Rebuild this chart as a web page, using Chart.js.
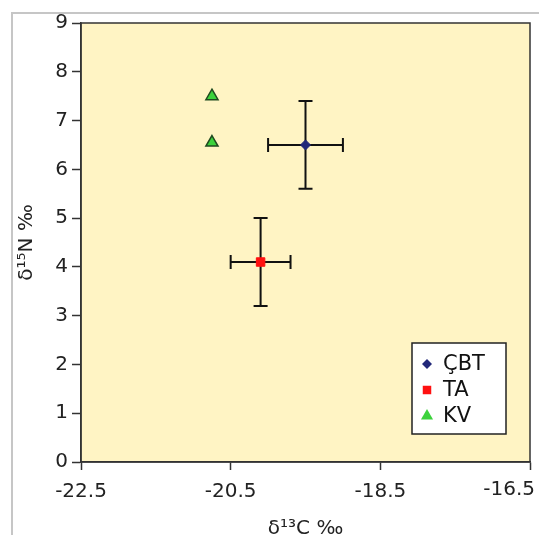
<!DOCTYPE html>
<html>
<head>
<meta charset="utf-8">
<script src="https://cdn.jsdelivr.net/npm/chart.js@4.4.1/dist/chart.umd.min.js"></script>
<style>
  body { margin: 0; background: #fff; }
  #wrap { position: relative; width: 539px; height: 535px; }
  #frame { position: absolute; left: 11px; top: 12px; right: 0; bottom: 0; border-left: 2px solid #c6c6c6; border-top: 2px solid #c6c6c6; }
  canvas { position: absolute; left: 0; top: 0; }
</style>
</head>
<body>
<div id="wrap">
  <div id="frame"></div>
  <canvas id="chart" width="539" height="535"></canvas>
</div>
<script>
// Data
const categories = ['ÇBT', 'TA', 'KV'];
const cbtX = [-19.5];
const cbtY = [6.5];
const cbtXErr = [0.5];
const cbtYErr = [0.9];
const taX = [-20.1];
const taY = [4.1];
const taXErr = [0.4];
const taYErr = [0.9];
const kvX = [-20.75, -20.75];
const kvY = [7.5, 6.55];
const xTicks = [-22.5, -20.5, -18.5, -16.5];
const yTicks = [0, 1, 2, 3, 4, 5, 6, 7, 8, 9];

const FONT = '"DejaVu Sans", sans-serif';
const TICK_SIZE = 20;

const toPoints = (xs, ys, xe, ye) => xs.map((x, i) => ({
  x, y: ys[i], xErr: xe ? xe[i] : 0, yErr: ye ? ye[i] : 0
}));

// Plot background and border
const plotFrame = {
  id: 'plotFrame',
  beforeDraw(chart) {
    const { ctx, chartArea: a } = chart;
    ctx.save();
    ctx.fillStyle = '#FFF4C4';
    ctx.fillRect(a.left, a.top, a.right - a.left, a.bottom - a.top);
    ctx.restore();
  },
  afterDraw(chart) {
    const { ctx, chartArea: a, scales: { x } } = chart;
    ctx.save();
    ctx.strokeStyle = '#333';
    ctx.lineWidth = 1.5;
    ctx.strokeRect(a.left, a.top, a.right - a.left, a.bottom - a.top);
    // last x label sits flush with the right edge, a little higher
    const last = xTicks[xTicks.length - 1];
    ctx.font = TICK_SIZE + 'px ' + FONT;
    ctx.fillStyle = '#222';
    ctx.textAlign = 'right';
    ctx.textBaseline = 'alphabetic';
    ctx.fillText(String(last), x.getPixelForValue(last) + 5, a.bottom + 33);
    ctx.restore();
  }
};

// Error bars from the data
const errorBars = {
  id: 'errorBars',
  beforeDatasetsDraw(chart) {
    const { ctx, scales: { x, y } } = chart;
    const cap = 7;
    ctx.save();
    ctx.strokeStyle = '#111';
    ctx.lineWidth = 2;
    chart.data.datasets.forEach(ds => {
      ds.data.forEach(p => {
        const px = x.getPixelForValue(p.x);
        const py = y.getPixelForValue(p.y);
        ctx.beginPath();
        if (p.xErr) {
          const l = x.getPixelForValue(p.x - p.xErr);
          const r = x.getPixelForValue(p.x + p.xErr);
          ctx.moveTo(l, py); ctx.lineTo(r, py);
          ctx.moveTo(l, py - cap); ctx.lineTo(l, py + cap);
          ctx.moveTo(r, py - cap); ctx.lineTo(r, py + cap);
        }
        if (p.yErr) {
          const t = y.getPixelForValue(p.y + p.yErr);
          const b = y.getPixelForValue(p.y - p.yErr);
          ctx.moveTo(px, t); ctx.lineTo(px, b);
          ctx.moveTo(px - cap, t); ctx.lineTo(px + cap, t);
          ctx.moveTo(px - cap, b); ctx.lineTo(px + cap, b);
        }
        ctx.stroke();
      });
    });
    ctx.restore();
  }
};

// Boxed legend inside the plot, lower right
const boxLegend = {
  id: 'boxLegend',
  afterDraw(chart) {
    const { ctx, chartArea: a } = chart;
    const left = a.right - 118, top = a.bottom - 119, w = 94, h = 91;
    ctx.save();
    ctx.fillStyle = '#fff';
    ctx.fillRect(left, top, w, h);
    ctx.strokeStyle = '#222';
    ctx.lineWidth = 1.5;
    ctx.strokeRect(left, top, w, h);
    ctx.font = '21px ' + FONT;
    ctx.textBaseline = 'middle';
    chart.data.datasets.forEach((ds, i) => {
      const cy = top + 21 + i * 26;
      ctx.fillStyle = ds.backgroundColor;
      ctx.strokeStyle = ds.borderColor;
      ctx.lineWidth = ds.borderWidth;
      Chart.helpers.drawPoint(ctx, { pointStyle: ds.pointStyle, radius: ds.legendRadius, rotation: 0 }, left + 15, cy);
      ctx.fillStyle = '#111';
      ctx.fillText(ds.label, left + 31, cy + 1);
    });
    ctx.restore();
  }
};

new Chart(document.getElementById('chart'), {
  type: 'scatter',
  data: {
    datasets: [
      {
        label: categories[0],
        data: toPoints(cbtX, cbtY, cbtXErr, cbtYErr),
        pointStyle: 'rectRot',
        radius: 5,
        legendRadius: 5,
        backgroundColor: '#22287A',
        borderColor: '#22287A',
        borderWidth: 1
      },
      {
        label: categories[1],
        data: toPoints(taX, taY, taXErr, taYErr),
        pointStyle: 'rect',
        radius: 6,
        legendRadius: 6,
        backgroundColor: '#FF1010',
        borderColor: '#FF1010',
        borderWidth: 1
      },
      {
        label: categories[2],
        data: toPoints(kvX, kvY),
        pointStyle: 'triangle',
        radius: 7,
        legendRadius: 7,
        backgroundColor: '#3CD23C',
        borderColor: '#1F4A1F',
        borderWidth: 1.5
      }
    ]
  },
  options: {
    responsive: false,
    animation: false,
    layout: { padding: { left: 0, right: 9, top: 23, bottom: 0 } },
    plugins: {
      legend: { display: false },
      tooltip: { enabled: false }
    },
    scales: {
      x: {
        type: 'linear',
        min: -22.5,
        max: -16.5,
        afterBuildTicks: s => { s.ticks = xTicks.map(v => ({ value: v })); },
        afterFit: s => { s.height = 73; s.paddingLeft = 0; s.paddingRight = 0; },
        border: { display: true, color: '#333', width: 1.5 },
        grid: { drawOnChartArea: false, drawTicks: true, tickLength: 8, tickColor: '#333', tickWidth: 1.5 },
        ticks: {
          color: '#222', font: { family: FONT, size: TICK_SIZE }, padding: 10, maxRotation: 0,
          callback: v => (v === xTicks[xTicks.length - 1] ? '' : String(v))
        },
        title: { display: true, text: 'δ¹³C ‰', color: '#222', font: { family: FONT, size: 20 }, padding: { top: 0, bottom: -6 } }
      },
      y: {
        type: 'linear',
        min: 0,
        max: 9,
        afterBuildTicks: s => { s.ticks = yTicks.map(v => ({ value: v })); },
        afterFit: s => { s.width = 81; s.paddingTop = 0; s.paddingBottom = 0; },
        border: { display: true, color: '#333', width: 1.5 },
        grid: { drawOnChartArea: false, drawTicks: true, tickLength: 9, tickColor: '#333', tickWidth: 1.5 },
        ticks: { color: '#222', font: { family: FONT, size: TICK_SIZE }, padding: 4 },
        title: { display: true, text: 'δ¹⁵N ‰', color: '#222', font: { family: FONT, size: 20 }, padding: { top: 15, bottom: 0 } }
      }
    }
  },
  plugins: [plotFrame, errorBars, boxLegend]
});
</script>
</body>
</html>
